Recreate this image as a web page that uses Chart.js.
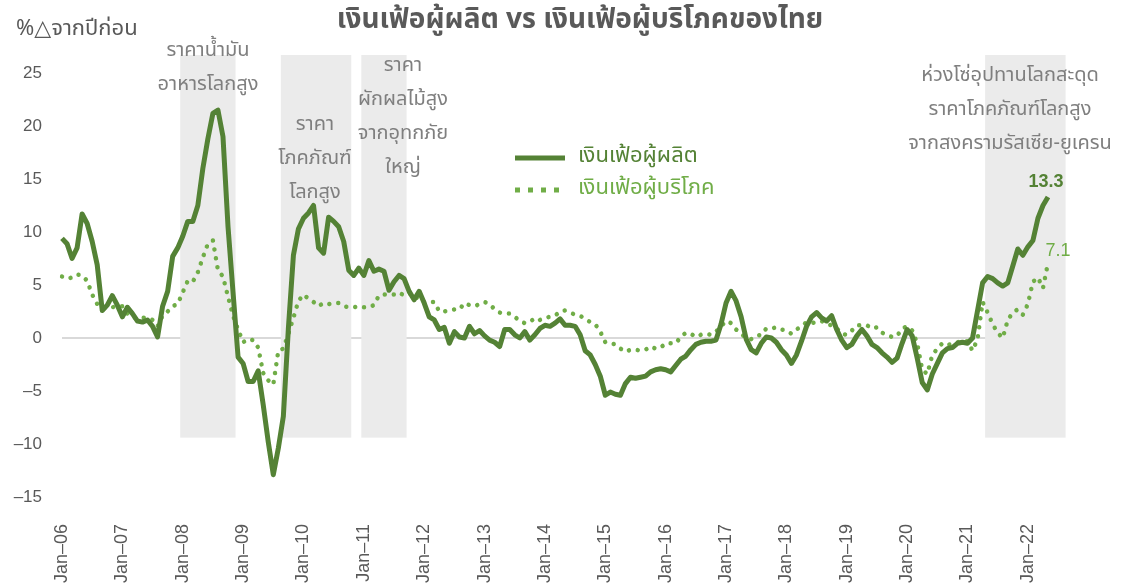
<!DOCTYPE html>
<html>
<head>
<meta charset="utf-8">
<script src="https://cdn.jsdelivr.net/npm/chart.js@4"></script>
<style>
  html, body { margin: 0; padding: 0; background: #fff; }
  #wrap { width: 1122px; height: 588px; position: relative; }
</style>
</head>
<body>
<div id="wrap"><canvas id="chart"></canvas></div>
<script>
// year-on-year change, monthly, Jan-06 .. May-22
const ppi = [
  9.4, 8.9, 7.5, 8.5, 11.7, 10.8, 9.1, 6.9, 2.6, 3.1, 4.0, 3.1,      // 2006
  2.0, 2.9, 2.3, 1.6, 1.5, 1.7, 1.1, 0.1, 3.0, 4.4, 7.7, 8.5,        // 2007
  9.6, 11.0, 11.0, 12.5, 16.0, 18.8, 21.2, 21.5, 19.0, 10.5, 4.3, -1.8, // 2008
  -2.4, -4.1, -4.1, -3.1, -6.3, -9.8, -12.9, -10.4, -7.4, 0.9, 7.8, 10.3, // 2009
  11.3, 11.8, 12.5, 8.5, 8.0, 11.4, 11.0, 10.5, 9.1, 6.4, 5.9, 6.6,  // 2010
  5.9, 7.3, 6.3, 6.5, 6.3, 4.5, 5.3, 5.9, 5.6, 4.4, 3.6, 4.4,        // 2011
  3.3, 2.0, 1.7, 0.8, 1.0, -0.5, 0.6, 0.1, 0.0, 1.1, 0.4, 0.7,       // 2012
  0.2, -0.2, -0.4, -0.8, 0.8, 0.8, 0.3, 0.0, 0.6, -0.2, 0.3, 0.9,    // 2013
  1.2, 1.1, 1.4, 1.8, 1.2, 1.2, 1.1, 0.3, -1.2, -1.6, -2.5, -3.6,    // 2014
  -5.4, -5.1, -5.3, -5.4, -4.3, -3.7, -3.8, -3.7, -3.6, -3.2, -3.0, -2.9, // 2015
  -3.0, -3.2, -2.6, -2.0, -1.7, -1.1, -0.6, -0.4, -0.3, -0.3, -0.2, 1.3, // 2016
  3.3, 4.4, 3.5, 2.0, -0.1, -1.1, -1.4, -0.5, 0.1, 0.0, -0.4, -1.1,  // 2017
  -1.6, -2.4, -1.6, -0.3, 1.1, 2.0, 2.4, 1.9, 1.6, 2.1, 0.8, -0.2,   // 2018
  -0.9, -0.6, 0.2, 0.8, 0.2, -0.6, -0.9, -1.4, -1.8, -2.3, -1.9, -0.5, // 2019
  0.8, 0.2, -1.9, -4.2, -4.9, -3.4, -2.4, -1.4, -1.0, -0.9, -0.5, -0.4, // 2020
  -0.5, 0.0, 2.6, 5.2, 5.8, 5.6, 5.2, 4.9, 5.2, 6.8, 8.4, 7.8,       // 2021
  8.6, 9.2, 11.3, 12.5, 13.3                                          // 2022
];
const cpi = [
  5.8, 5.6, 5.7, 6.0, 5.9, 5.4, 4.1, 3.2, 2.8, 2.8, 2.9, 3.0,        // 2006
  3.0, 2.3, 2.0, 1.8, 1.9, 1.9, 1.7, 1.1, 2.1, 2.5, 3.0, 3.2,        // 2007
  4.3, 5.4, 5.3, 6.2, 7.6, 8.9, 9.2, 6.4, 5.8, 3.9, 2.1, 0.8,        // 2008
  -0.4, -0.1, -0.2, -0.9, -3.3, -4.0, -4.4, -1.2, -1.0, 0.4, 1.9, 3.5, // 2009
  4.1, 3.7, 3.4, 3.0, 3.3, 3.2, 3.3, 3.3, 3.0, 2.9, 2.9, 3.0,        // 2010
  2.9, 2.9, 3.1, 4.0, 4.1, 4.1, 4.1, 4.3, 4.0, 4.2, 4.2, 3.5,        // 2011
  3.4, 3.4, 3.4, 2.5, 2.5, 2.6, 2.7, 2.7, 3.3, 3.1, 3.0, 3.2,        // 2012
  3.4, 3.2, 2.7, 2.4, 2.3, 2.3, 2.0, 1.6, 1.4, 1.5, 1.9, 1.7,        // 2013
  1.9, 2.0, 2.1, 2.5, 2.6, 2.4, 2.2, 2.1, 1.8, 1.5, 1.3, 0.6,        // 2014
  -0.4, -0.5, -0.6, -1.0, -1.3, -1.1, -1.1, -1.2, -1.1, -0.8, -1.0, -0.9, // 2015
  -0.5, -0.5, -0.5, 0.1, 0.5, 0.4, 0.1, 0.3, 0.4, 0.3, 0.6, 1.1,     // 2016
  1.6, 1.4, 0.8, 0.4, 0.0, -0.1, 0.2, 0.3, 0.9, 0.9, 1.0, 0.8,       // 2017
  0.7, 0.4, 0.8, 1.1, 1.5, 1.4, 1.5, 1.6, 1.3, 1.2, 0.9, 0.4,        // 2018
  0.3, 0.7, 1.2, 1.2, 1.2, 0.9, 1.0, 0.5, 0.3, 0.1, 0.2, 0.9,        // 2019
  1.1, 0.7, -0.5, -3.0, -3.4, -1.6, -1.0, -0.5, -0.7, -0.5, -0.4, -0.3, // 2020
  -0.3, -1.2, -0.1, 3.4, 2.4, 1.3, 0.5, 0.0, 1.7, 2.4, 2.7, 2.2,     // 2021
  3.2, 5.3, 5.7, 4.7, 7.1                                             // 2022
];
const monthNames = ['Jan','Feb','Mar','Apr','May','Jun','Jul','Aug','Sep','Oct','Nov','Dec'];
const months = ppi.map((v, i) => monthNames[i % 12] + '-' + String(6 + Math.floor(i / 12)).padStart(2, '0'));
const yTicks = [25, 20, 15, 10, 5, 0, -5, -10, -15];

const seriesNames = ['เงินเฟ้อผู้ผลิต', 'เงินเฟ้อผู้บริโภค'];
const titleText = 'เงินเฟ้อผู้ผลิต vs เงินเฟ้อผู้บริโภคของไทย';
const unitText = '%△จากปีก่อน';

// shaded episodes (first and last month of each)
const shadeFrom = ['Jan-08', 'Sep-09', 'Jan-11', 'May-21'];
const shadeTo = ['Nov-08', 'Oct-10', 'Sep-11', 'Aug-22'];
const shadeNotes = [
  ['ราคาน้ำมัน', 'อาหารโลกสูง'],
  ['ราคา', 'โภคภัณฑ์', 'โลกสูง'],
  ['ราคา', 'ผักผลไม้สูง', 'จากอุทกภัย', 'ใหญ่'],
  ['ห่วงโซ่อุปทานโลกสะดุด', 'ราคาโภคภัณฑ์โลกสูง', 'จากสงครามรัสเซีย-ยูเครน']
];

const GREEN_DARK = '#548235';
const GREEN = '#70ad47';
const GREY_TXT = '#595959';
const NOTE_TXT = '#7f7f7f';
const THAI = "'Noto Sans Thai', 'Noto Sans', 'DejaVu Sans', sans-serif";
const LATIN = "'Liberation Sans', Arial, sans-serif";

function monthIndex(lbl) {
  const [m, y] = lbl.split('-');
  return (parseInt(y, 10) - 6) * 12 + monthNames.indexOf(m);
}

const notePos = [
  { x: 208, y: 52 },
  { x: 315, y: 126 },
  { x: 403, y: 67 },
  { x: 1010, y: 77 }
];
const noteLine = 34;

const shading = {
  id: 'shading',
  beforeDatasetsDraw(chart) {
    const { ctx, scales: { x, y } } = chart;
    ctx.save();
    ctx.fillStyle = '#ebebeb';
    const top = y.getPixelForValue(26.7);
    const bot = y.getPixelForValue(-9.4);
    shadeFrom.forEach((s, i) => {
      const x0 = x.getPixelForValue(monthIndex(s) - 0.5);
      const x1 = x.getPixelForValue(monthIndex(shadeTo[i]) + 0.5);
      ctx.fillRect(x0, top, x1 - x0, bot - top);
    });
    ctx.restore();
  }
};

const decorations = {
  id: 'decorations',
  afterDraw(chart) {
    const { ctx } = chart;
    ctx.save();
    ctx.textBaseline = 'middle';

    // title
    ctx.fillStyle = GREY_TXT;
    ctx.textAlign = 'center';
    ctx.font = `bold 28px ${THAI}`;
    ctx.fillText(titleText, 580, 22);

    // unit
    ctx.textAlign = 'left';
    ctx.font = `22px ${THAI}`;
    ctx.fillText(unitText, 16, 31);

    // notes
    ctx.fillStyle = NOTE_TXT;
    ctx.textAlign = 'center';
    ctx.font = `20px ${THAI}`;
    shadeNotes.forEach((lines, i) => {
      lines.forEach((t, j) => ctx.fillText(t, notePos[i].x, notePos[i].y + j * noteLine));
    });

    // legend
    const lx = 515, ly = [158, 190];
    chart.data.datasets.forEach((ds, i) => {
      ctx.strokeStyle = ds.borderColor;
      ctx.lineWidth = 5;
      ctx.lineCap = 'butt';
      ctx.setLineDash(i === 0 ? [] : [5, 8]);
      ctx.beginPath();
      ctx.moveTo(lx, ly[i]);
      ctx.lineTo(lx + 50, ly[i]);
      ctx.stroke();
      ctx.setLineDash([]);
      ctx.fillStyle = ds.borderColor;
      ctx.textAlign = 'left';
      ctx.font = `22px ${THAI}`;
      ctx.fillText(ds.label, lx + 63, ly[i]);
    });

    // last values
    chart.data.datasets.forEach((ds, i) => {
      const pts = chart.getDatasetMeta(i).data;
      const p = pts[pts.length - 1];
      const v = ds.data[ds.data.length - 1];
      ctx.fillStyle = ds.borderColor;
      ctx.textAlign = 'center';
      ctx.font = (i === 0 ? 'bold ' : '') + `18px ${LATIN}`;
      if (i === 0) ctx.fillText(v.toFixed(1), p.x - 2, p.y - 15);
      else ctx.fillText(v.toFixed(1), p.x + 10, p.y - 12);
    });
    ctx.restore();
  }
};

new Chart(document.getElementById('chart'), {
  type: 'line',
  data: {
    labels: months,
    datasets: [
      {
        label: seriesNames[0],
        data: ppi,
        borderColor: GREEN_DARK,
        borderWidth: 5,
        pointRadius: 0,
        tension: 0,
        borderJoinStyle: 'round'
      },
      {
        label: seriesNames[1],
        data: cpi,
        borderColor: GREEN,
        borderWidth: 4.5,
        borderDash: [0.01, 9],
        borderCapStyle: 'round',
        pointRadius: 0,
        tension: 0
      }
    ]
  },
  options: {
    responsive: true,
    maintainAspectRatio: false,
    animation: false,
    layout: { padding: { left: 5, right: 74, top: 73, bottom: 0 } },
    plugins: {
      legend: { display: false },
      title: { display: false },
      tooltip: { enabled: false }
    },
    scales: {
      x: {
        type: 'category',
        offset: false,
        grid: { display: false },
        border: { display: false },
        afterFit(s) { s.height = 91; },
        ticks: {
          autoSkip: false,
          minRotation: 90,
          maxRotation: 90,
          padding: 19,
          color: GREY_TXT,
          font: { family: LATIN, size: 18 },
          callback(v, i) {
            const l = months[i];
            return l.startsWith('Jan') ? l.replace('-', '–') : null;
          }
        }
      },
      y: {
        min: -15,
        max: 25,
        afterFit(s) { s.width = 57; },
        afterBuildTicks(s) { s.ticks = yTicks.map(v => ({ value: v })); },
        grid: {
          drawTicks: false,
          lineWidth: 2,
          color: c => (c.tick && c.tick.value === 0 ? '#d9d9d9' : 'rgba(0,0,0,0)')
        },
        border: { display: false },
        ticks: {
          padding: 20,
          color: GREY_TXT,
          font: { family: LATIN, size: 17 },
          callback: v => String(v).replace('-', '–')
        }
      }
    }
  },
  plugins: [shading, decorations]
});
</script>
</body>
</html>
